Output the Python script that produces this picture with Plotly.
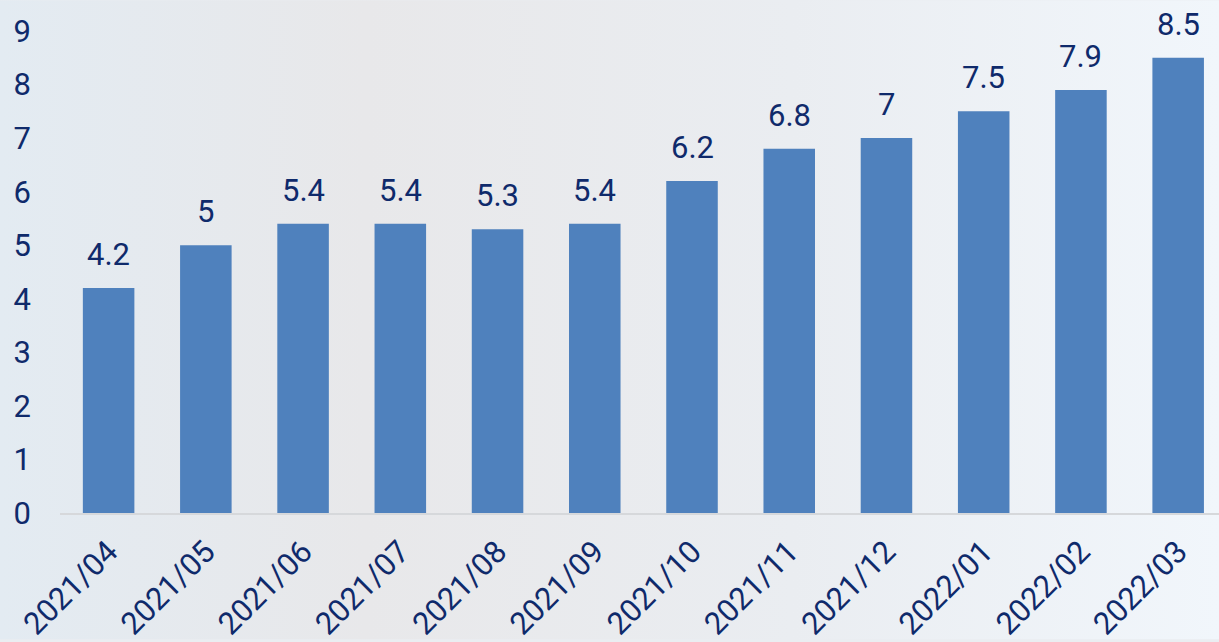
import base64
import plotly.graph_objects as go

categories = ["2021/04", "2021/05", "2021/06", "2021/07", "2021/08", "2021/09",
              "2021/10", "2021/11", "2021/12", "2022/01", "2022/02", "2022/03"]
values = [4.2, 5, 5.4, 5.4, 5.3, 5.4, 6.2, 6.8, 7, 7.5, 7.9, 8.5]
y_ticks = [0, 1, 2, 3, 4, 5, 6, 7, 8, 9]

TEXT = "#0f2a6b"
BAR = "#4f81bd"
FONT = "Roboto, Arial, sans-serif"

W, H = 1219, 642
ML, MR, MT, MB = 60, 0, 31, 127
PW, PH = W - ML - MR, H - MT - MB

svg = """<svg xmlns='http://www.w3.org/2000/svg' width='1219' height='642' preserveAspectRatio='none'>
<defs><linearGradient id='g' x1='0' y1='0' x2='1' y2='0'>
<stop offset='0' stop-color='#e3ebf2'/>
<stop offset='0.3' stop-color='#e8e8ea'/>
<stop offset='0.65' stop-color='#eaedf1'/>
<stop offset='1' stop-color='#f1f6fb'/>
</linearGradient></defs>
<rect width='1219' height='642' fill='url(#g)'/></svg>"""
bg = "data:image/svg+xml;base64," + base64.b64encode(svg.encode()).decode()

fig = go.Figure()
fig.add_trace(go.Bar(
    x=categories, y=values, marker=dict(color=BAR, line=dict(width=0)),
    width=0.53, hoverinfo="skip",
))

for c, v in zip(categories, values):
    fig.add_annotation(x=c, y=v, text=f"{v:g}", showarrow=False,
                       yanchor="bottom", yshift=13,
                       font=dict(family=FONT, size=31, color=TEXT))

fig.update_layout(
    width=W, height=H,
    margin=dict(l=ML, r=MR, t=MT, b=MB),
    paper_bgcolor="#eaedf1", plot_bgcolor="rgba(0,0,0,0)",
    showlegend=False,
    font=dict(family=FONT, color=TEXT),
    images=[dict(source=bg, xref="paper", yref="paper",
                 x=-ML / PW, y=1 + MT / PH,
                 sizex=W / PW, sizey=H / PH, xanchor="left", yanchor="top",
                 sizing="stretch", layer="below")],
    xaxis=dict(
        range=[-0.5, 11.42], showgrid=False, showline=True,
        linecolor="#d6d8db", linewidth=2, ticks="",
        tickangle=-45, tickfont=dict(family=FONT, size=31, color=TEXT),
        ticklabelstandoff=6, fixedrange=True,
    ),
    yaxis=dict(
        range=[0, 9], tickvals=y_ticks, showgrid=False, zeroline=False,
        showline=False, ticks="", ticklabelstandoff=28,
        tickfont=dict(family=FONT, size=31, color=TEXT), fixedrange=True,
    ),
)

fig.write_html("out.html", config={"displayModeBar": False},
               post_script="document.body.style.margin='0';")
